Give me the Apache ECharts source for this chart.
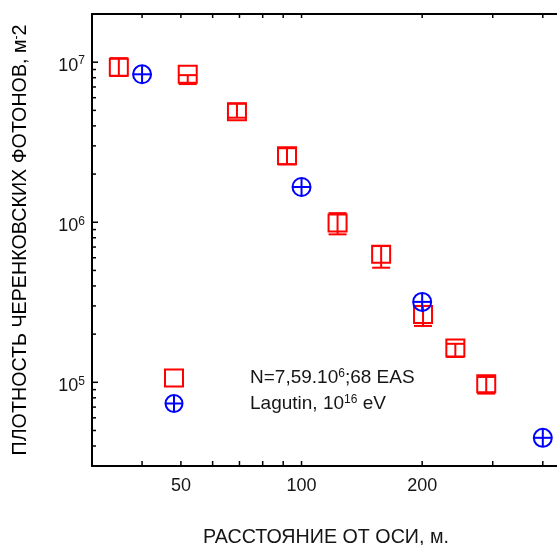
<!DOCTYPE html>
<html>
<head>
<meta charset="utf-8">
<script src="https://cdn.jsdelivr.net/npm/echarts@6/dist/echarts.min.js"></script>
<style>
  html, body { margin: 0; padding: 0; background: #fff; }
  #chart { width: 557px; height: 545px; }
</style>
</head>
<body>
<div id="chart"></div>
<script>
const FONT = '"Liberation Sans", Arial, Helvetica, sans-serif';
const INK = '#161616';

// Measured Cherenkov photon densities, N = 7.59e6, 68 EAS
const eventName = 'N=7,59.10^6;68 EAS';
const eventDistances = [35, 52, 69, 92, 123, 158, 201, 242, 289];
const eventDensities = [9.3e6, 8.4e6, 4.9e6, 2.6e6, 9.9e5, 6.3e5, 2.65e5, 1.64e5, 9.8e4];
const eventUpper = [1.06e7, 8.3e6, 5.5e6, 2.9e6, 1.14e6, 7.1e5, 3.0e5, 1.74e5, 1.08e5];
const eventLower = [8.2e6, 7.3e6, 4.5e6, 2.3e6, 8.4e5, 5.2e5, 2.25e5, 1.44e5, 8.5e4];

// Lagutin calculation for 1e16 eV
const lagutinName = 'Lagutin, 10^16 eV';
const lagutinDistances = [40, 100, 200, 400];
const lagutinDensities = [8.4e6, 1.66e6, 3.18e5, 4.5e4];

// Axis ranges, ticks and labels
const X_MIN = 30, X_MAX = 434;
const Y_MIN = 3e4, Y_MAX = 2e7;
const xTickValues = [40, 50, 60, 70, 80, 90, 100, 200, 300, 400];
const xTickLabels = [50, 100, 200];
const yMajorTicks = [1e5, 1e6, 1e7];
const yMinorTicks = [4e4, 5e4, 6e4, 7e4, 8e4, 9e4,
                     2e5, 3e5, 4e5, 5e5, 6e5, 7e5, 8e5, 9e5,
                     2e6, 3e6, 4e6, 5e6, 6e6, 7e6, 8e6, 9e6];

const supStyle = { fontFamily: FONT, fontSize: 12, color: INK, verticalAlign: 'top', lineHeight: 12 };
const titleFont = 19.7;

const chart = echarts.init(document.getElementById('chart'), null, { renderer: 'canvas' });

const option = {
  animation: false,
  backgroundColor: '#fff',
  grid: { left: 92, right: 0, top: 14, bottom: 79, containLabel: false },
  xAxis: [
    {
      type: 'log', min: X_MIN, max: X_MAX, position: 'bottom',
      axisLine: { show: true, lineStyle: { color: '#000', width: 2 } },
      axisTick: { show: false }, axisLabel: { show: false },
      splitLine: { show: false }, minorTick: { show: false }
    },
    {
      type: 'log', min: X_MIN, max: X_MAX, position: 'top',
      axisLine: { show: true, lineStyle: { color: '#000', width: 2 } },
      axisTick: { show: false }, axisLabel: { show: false },
      splitLine: { show: false }
    }
  ],
  yAxis: {
    type: 'log', min: Y_MIN, max: Y_MAX,
    axisLine: { show: true, lineStyle: { color: '#000', width: 2 } },
    axisTick: { show: false },
    splitLine: { show: false },
    axisLabel: {
      margin: 7,
      padding: [8, 0, 0, 0],
      formatter: function (v) {
        const e = Math.log10(v);
        const n = Math.round(e);
        if (Math.abs(e - n) > 1e-6) return '';
        return '{b|10}{e|' + n + '}';
      },
      rich: {
        b: { fontFamily: FONT, fontSize: 18, color: INK, lineHeight: 22 },
        e: supStyle
      }
    }
  },
  legend: {
    orient: 'vertical', left: 164, top: 368, padding: 0,
    itemWidth: 18, itemHeight: 17, itemGap: 6,
    selectedMode: false,
    data: [
      { name: eventName, icon: 'rect',
        itemStyle: { color: 'rgba(0,0,0,0)', borderColor: '#ff0000', borderWidth: 2 } },
      { name: lagutinName, icon: 'path://M10,1A9,9 0 1,1 10,19A9,9 0 1,1 10,1ZM1,10L19,10M10,1L10,19',
        itemStyle: { color: 'rgba(0,0,0,0)', borderColor: '#0000ff', borderWidth: 2 } }
    ],
    formatter: function (name) {
      if (name === eventName) return '{a|N=7,59.10}{s|6}{a|;68 EAS}';
      return '{a|Lagutin, 10}{s|16}{a| eV}';
    },
    textStyle: {
      padding: [0, 0, 0, 62],
      rich: {
        a: { fontFamily: FONT, fontSize: 19, color: INK, lineHeight: 20 },
        s: supStyle
      }
    }
  },
  graphic: [
    {
      type: 'text', x: 21, y: 240, rotation: Math.PI / 2,
      style: {
        text: '{a|ПЛОТНОСТЬ ЧЕРЕНКОВСКИХ ФОТОНОВ, м}{s|-}{a|2}',
        rich: {
          a: { fontFamily: FONT, fontSize: titleFont, color: INK, lineHeight: 21 },
          s: supStyle
        },
        align: 'center', verticalAlign: 'middle'
      }
    },
    {
      type: 'text', x: 326, y: 538,
      style: {
        text: 'РАССТОЯНИЕ ОТ ОСИ, м.',
        font: titleFont + 'px ' + FONT, fill: INK,
        align: 'center', verticalAlign: 'middle'
      }
    }
  ],
  series: [
    {
      // tick marks on the bottom and top distance axes
      name: 'xTicks', type: 'custom', silent: true, clip: false,
      encode: { x: 0, y: 1 },
      data: xTickValues.map(v => [v, Y_MIN]),
      renderItem: function (params, api) {
        const b = api.coord([api.value(0), Y_MIN]);
        const t = api.coord([api.value(0), Y_MAX]);
        const st = { stroke: '#000', lineWidth: 1.5 };
        return { type: 'group', children: [
          { type: 'line', shape: { x1: b[0], y1: b[1], x2: b[0], y2: b[1] - 5 }, style: st },
          { type: 'line', shape: { x1: t[0], y1: t[1], x2: t[0], y2: t[1] + 4 }, style: st }
        ] };
      }
    },
    {
      // tick marks on the density axis
      name: 'yTicks', type: 'custom', silent: true, clip: false,
      encode: { x: 0, y: 1 },
      data: yMajorTicks.map(v => [X_MIN, v, 6]).concat(yMinorTicks.map(v => [X_MIN, v, 4])),
      renderItem: function (params, api) {
        const p = api.coord([X_MIN, api.value(1)]);
        const len = api.value(2);
        return { type: 'line', shape: { x1: p[0], y1: p[1], x2: p[0] + len, y2: p[1] },
                 style: { stroke: '#000', lineWidth: 1.5 } };
      }
    },
    {
      // distance tick labels
      name: 'xLabels', type: 'custom', silent: true, clip: false,
      encode: { x: 0, y: 1 },
      data: xTickLabels.map(v => [v, Y_MIN]),
      renderItem: function (params, api) {
        const p = api.coord([api.value(0), Y_MIN]);
        return { type: 'text', x: p[0], y: p[1] + 20,
                 style: { text: String(api.value(0)), font: '18px ' + FONT, fill: INK,
                          align: 'center', verticalAlign: 'middle' } };
      }
    },
    {
      name: eventName, type: 'custom', clip: false,
      encode: { x: 0, y: 1 },
      data: eventDistances.map((d, i) => [d, eventDensities[i], eventUpper[i], eventLower[i]]),
      renderItem: function (params, api) {
        const x = api.value(0);
        const c = api.coord([x, api.value(1)]);
        const hi = api.coord([x, api.value(2)]);
        const lo = api.coord([x, api.value(3)]);
        const w = 18, h = 17;
        const st = { stroke: '#ff0000', lineWidth: 2, fill: 'none' };
        return { type: 'group', children: [
          { type: 'rect', shape: { x: c[0] - w / 2, y: c[1] - h / 2, width: w, height: h }, style: st },
          { type: 'line', shape: { x1: c[0], y1: hi[1], x2: c[0], y2: lo[1] }, style: st },
          { type: 'line', shape: { x1: c[0] - w / 2, y1: hi[1], x2: c[0] + w / 2, y2: hi[1] }, style: st },
          { type: 'line', shape: { x1: c[0] - w / 2, y1: lo[1], x2: c[0] + w / 2, y2: lo[1] }, style: st }
        ] };
      }
    },
    {
      name: lagutinName, type: 'custom', clip: false,
      encode: { x: 0, y: 1 },
      data: lagutinDistances.map((d, i) => [d, lagutinDensities[i]]),
      renderItem: function (params, api) {
        const c = api.coord([api.value(0), api.value(1)]);
        const r = 9;
        const st = { stroke: '#0000ff', lineWidth: 2, fill: 'none' };
        return { type: 'group', children: [
          { type: 'circle', shape: { cx: c[0], cy: c[1], r: r }, style: st },
          { type: 'line', shape: { x1: c[0] - r, y1: c[1], x2: c[0] + r, y2: c[1] }, style: st },
          { type: 'line', shape: { x1: c[0], y1: c[1] - r, x2: c[0], y2: c[1] + r }, style: st }
        ] };
      }
    }
  ]
};

chart.setOption(option);
</script>
</body>
</html>
